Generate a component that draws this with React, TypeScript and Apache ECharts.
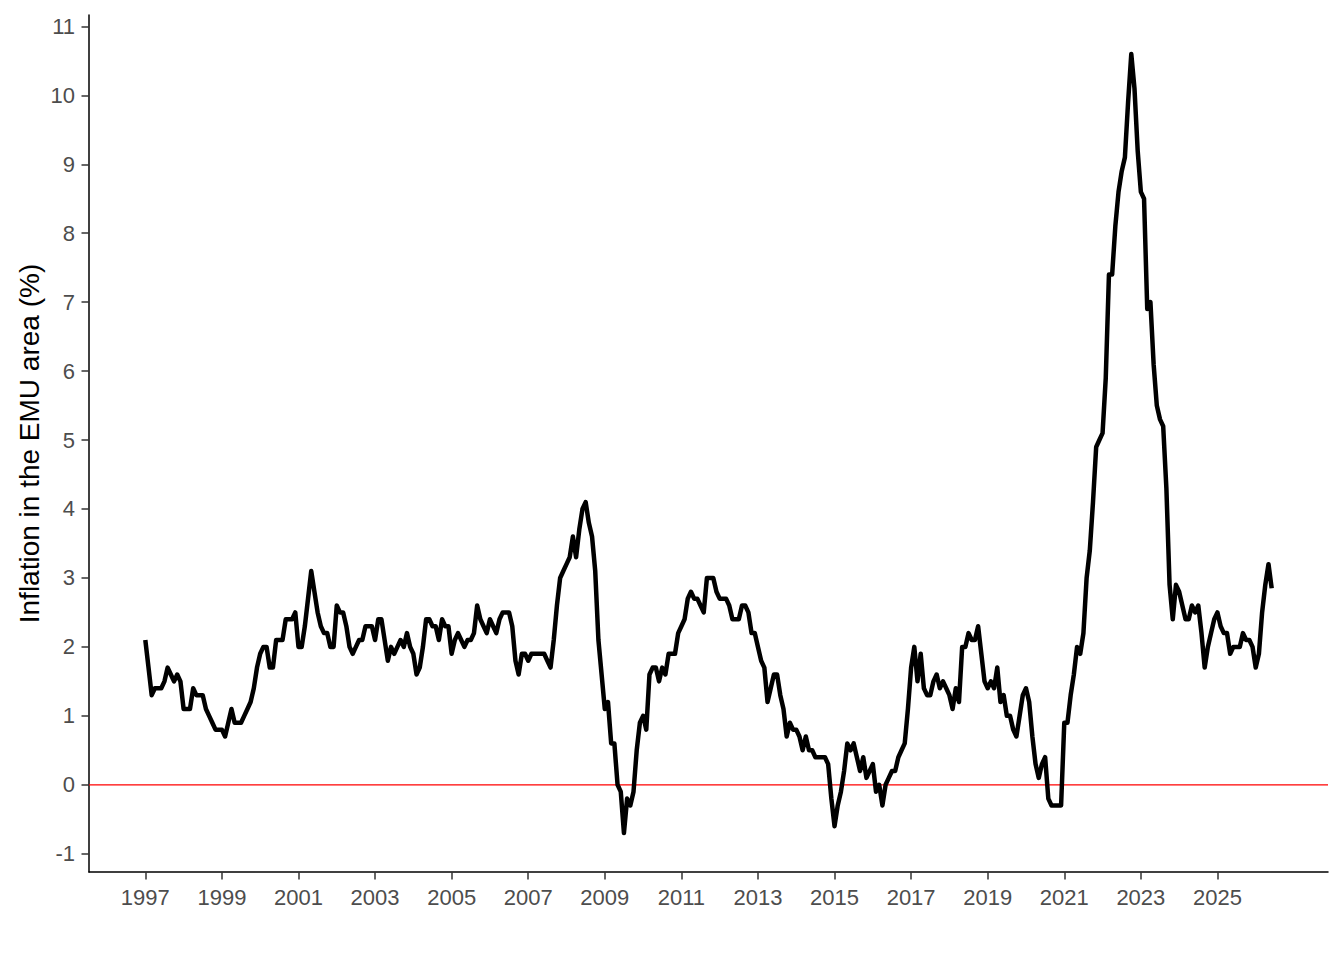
import React, { useEffect, useRef } from "react";
import * as echarts from "echarts";

// Monthly HICP inflation, euro area (%), January 1997 onwards
const startYear = 1997;
const v1997 = [2.1, 1.7, 1.3, 1.4, 1.4, 1.4, 1.5, 1.7, 1.6, 1.5, 1.6, 1.5];
const v1998 = [1.1, 1.1, 1.1, 1.4, 1.3, 1.3, 1.3, 1.1, 1.0, 0.9, 0.8, 0.8];
const v1999 = [0.8, 0.7, 0.9, 1.1, 0.9, 0.9, 0.9, 1.0, 1.1, 1.2, 1.4, 1.7];
const v2000 = [1.9, 2.0, 2.0, 1.7, 1.7, 2.1, 2.1, 2.1, 2.4, 2.4, 2.4, 2.5];
const v2001 = [2.0, 2.0, 2.3, 2.7, 3.1, 2.8, 2.5, 2.3, 2.2, 2.2, 2.0, 2.0];
const v2002 = [2.6, 2.5, 2.5, 2.3, 2.0, 1.9, 2.0, 2.1, 2.1, 2.3, 2.3, 2.3];
const v2003 = [2.1, 2.4, 2.4, 2.1, 1.8, 2.0, 1.9, 2.0, 2.1, 2.0, 2.2, 2.0];
const v2004 = [1.9, 1.6, 1.7, 2.0, 2.4, 2.4, 2.3, 2.3, 2.1, 2.4, 2.3, 2.3];
const v2005 = [1.9, 2.1, 2.2, 2.1, 2.0, 2.1, 2.1, 2.2, 2.6, 2.4, 2.3, 2.2];
const v2006 = [2.4, 2.3, 2.2, 2.4, 2.5, 2.5, 2.5, 2.3, 1.8, 1.6, 1.9, 1.9];
const v2007 = [1.8, 1.9, 1.9, 1.9, 1.9, 1.9, 1.8, 1.7, 2.1, 2.6, 3.0, 3.1];
const v2008 = [3.2, 3.3, 3.6, 3.3, 3.7, 4.0, 4.1, 3.8, 3.6, 3.1, 2.1, 1.6];
const v2009 = [1.1, 1.2, 0.6, 0.6, 0.0, -0.1, -0.7, -0.2, -0.3, -0.1, 0.5, 0.9];
const v2010 = [1.0, 0.8, 1.6, 1.7, 1.7, 1.5, 1.7, 1.6, 1.9, 1.9, 1.9, 2.2];
const v2011 = [2.3, 2.4, 2.7, 2.8, 2.7, 2.7, 2.6, 2.5, 3.0, 3.0, 3.0, 2.8];
const v2012 = [2.7, 2.7, 2.7, 2.6, 2.4, 2.4, 2.4, 2.6, 2.6, 2.5, 2.2, 2.2];
const v2013 = [2.0, 1.8, 1.7, 1.2, 1.4, 1.6, 1.6, 1.3, 1.1, 0.7, 0.9, 0.8];
const v2014 = [0.8, 0.7, 0.5, 0.7, 0.5, 0.5, 0.4, 0.4, 0.4, 0.4, 0.3, -0.2];
const v2015 = [-0.6, -0.3, -0.1, 0.2, 0.6, 0.5, 0.6, 0.4, 0.2, 0.4, 0.1, 0.2];
const v2016 = [0.3, -0.1, 0.0, -0.3, 0.0, 0.1, 0.2, 0.2, 0.4, 0.5, 0.6, 1.1];
const v2017 = [1.7, 2.0, 1.5, 1.9, 1.4, 1.3, 1.3, 1.5, 1.6, 1.4, 1.5, 1.4];
const v2018 = [1.3, 1.1, 1.4, 1.2, 2.0, 2.0, 2.2, 2.1, 2.1, 2.3, 1.9, 1.5];
const v2019 = [1.4, 1.5, 1.4, 1.7, 1.2, 1.3, 1.0, 1.0, 0.8, 0.7, 1.0, 1.3];
const v2020 = [1.4, 1.2, 0.7, 0.3, 0.1, 0.3, 0.4, -0.2, -0.3, -0.3, -0.3, -0.3];
const v2021 = [0.9, 0.9, 1.3, 1.6, 2.0, 1.9, 2.2, 3.0, 3.4, 4.1, 4.9, 5.0];
const v2022 = [5.1, 5.9, 7.4, 7.4, 8.1, 8.6, 8.9, 9.1, 9.9, 10.6, 10.1, 9.2];
const v2023 = [8.6, 8.5, 6.9, 7.0, 6.1, 5.5, 5.3, 5.2, 4.3, 2.9, 2.4, 2.9];
const v2024 = [2.8, 2.6, 2.4, 2.4, 2.6, 2.5, 2.6, 2.2, 1.7, 2.0, 2.2, 2.4];
const v2025 = [2.5, 2.3, 2.2, 2.2, 1.9, 2.0, 2.0, 2.0, 2.2, 2.1, 2.1, 2.0];
const v2026 = [1.7, 1.9, 2.5, 2.9, 3.2, 2.85];

const inflation = [
  ...v1997, ...v1998, ...v1999, ...v2000, ...v2001, ...v2002, ...v2003,
  ...v2004, ...v2005, ...v2006, ...v2007, ...v2008, ...v2009, ...v2010,
  ...v2011, ...v2012, ...v2013, ...v2014, ...v2015, ...v2016, ...v2017,
  ...v2018, ...v2019, ...v2020, ...v2021, ...v2022, ...v2023, ...v2024,
  ...v2025, ...v2026,
];

const xTickYears = [1997, 1999, 2001, 2003, 2005, 2007, 2009, 2011, 2013, 2015, 2017, 2019, 2021, 2023, 2025];
const yTickValues = [-1, 0, 1, 2, 3, 4, 5, 6, 7, 8, 9, 10, 11];
const yTitle = "Inflation in the EMU area (%)";

const FONT = "'Liberation Sans', Arial, Helvetica, sans-serif";

export default function App() {
  const ref = useRef<HTMLDivElement>(null);

  useEffect(() => {
    if (!ref.current) return;
    const chart = echarts.init(ref.current, null, { renderer: "svg" });

    const points = inflation.map((v, i) => [startYear + i / 12, v]);
    const xFirst = points[0][0];
    const xLast = points[points.length - 1][0];
    const xPad = (xLast - xFirst) * 0.05;
    const xMin = xFirst - xPad;
    const xMax = xLast + xPad;
    const yLo = Math.min(...inflation);
    const yHi = Math.max(...inflation);
    const yPad = (yHi - yLo) * 0.05;
    const yMin = yLo - yPad;
    const yMax = yHi + yPad;

    chart.setOption({
      animation: false,
      backgroundColor: "#ffffff",
      grid: { left: 89, right: 16, top: 15, bottom: 88 },
      xAxis: {
        type: "value",
        min: xMin,
        max: xMax,
        splitLine: { show: false },
        axisLine: { show: true, onZero: false, lineStyle: { color: "#000000", width: 1.5 } },
        axisTick: {
          show: true,
          customValues: xTickYears,
          length: 7.5,
          lineStyle: { color: "#333333", width: 1.5 },
        },
        axisLabel: {
          customValues: xTickYears,
          color: "#4d4d4d",
          fontSize: 22,
          fontFamily: FONT,
          margin: 14,
          formatter: (v: number) => String(Math.round(v)),
        },
      },
      yAxis: {
        type: "value",
        min: yMin,
        max: yMax,
        splitLine: { show: false },
        axisLine: { show: true, onZero: false, lineStyle: { color: "#000000", width: 1.5 } },
        axisTick: {
          show: true,
          customValues: yTickValues,
          length: 7.5,
          lineStyle: { color: "#333333", width: 1.5 },
        },
        axisLabel: {
          customValues: yTickValues,
          color: "#4d4d4d",
          fontSize: 22,
          fontFamily: FONT,
          margin: 14,
          formatter: (v: number) => String(Math.round(v)),
        },
      },
      series: [
        {
          type: "line",
          data: [[xMin, 0], [xMax, 0]],
          symbol: "none",
          silent: true,
          z: 1,
          lineStyle: { color: "#ff0000", width: 1.2 },
        },
        {
          type: "line",
          data: points,
          symbol: "none",
          z: 2,
          lineStyle: { color: "#000000", width: 4.5, join: "round", cap: "butt" },
        },
      ],
      graphic: [
        {
          type: "text",
          x: 29,
          y: 443.5,
          rotation: Math.PI / 2,
          style: {
            text: yTitle,
            fontSize: 28,
            fontFamily: FONT,
            fill: "#000000",
            align: "center",
            verticalAlign: "middle",
          },
        },
      ],
    });

    return () => chart.dispose();
  }, []);

  return (
    <div
      ref={ref}
      style={{ position: "absolute", left: 0, top: 0, width: 1344, height: 960 }}
    />
  );
}
